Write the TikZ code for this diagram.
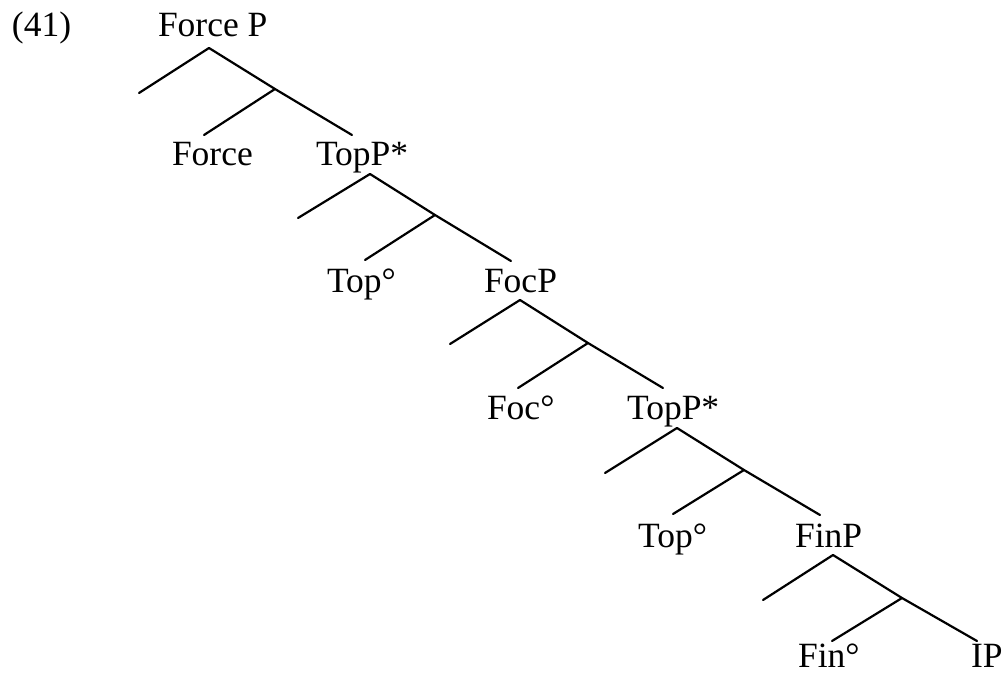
\documentclass[tikz,border=0pt]{standalone}
\usepackage{fontspec}
\setmainfont{Liberation Serif}
\begin{document}
\begin{tikzpicture}[x=1pt,y=-1pt,
  lbl/.style={anchor=base west,inner sep=0pt,outer sep=0pt,font=\fontsize{35.5}{40}\selectfont},
  branch/.style={line width=2.2pt,line cap=round,line join=round}]
\useasboundingbox (0,0) rectangle (1003,674);
% labels
\node[lbl] (ex) at (12,37) {(41)};
\node[lbl] (forceP) at (158,37) {Force P};
\node[lbl] (force) at (172,165) {Force};
\node[lbl] (topP1) at (316,165) {TopP*};
\node[lbl] (top1) at (327,292) {Top°};
\node[lbl] (focP) at (484,292) {FocP};
\node[lbl] (foc) at (487,419) {Foc°};
\node[lbl] (topP2) at (627,419) {TopP*};
\node[lbl] (top2) at (638,547) {Top°};
\node[lbl] (finP) at (795,547) {FinP};
\node[lbl] (fin) at (798,667) {Fin°};
\node[lbl] (ip) at (971,667) {IP};
% level 1
\coordinate (a1) at (209,48); \coordinate (l1) at (139,93); \coordinate (j1) at (275,89);
\coordinate (r1) at (352,135); \coordinate (c1) at (204,135);
% level 2
\coordinate (a2) at (370,174); \coordinate (l2) at (298,218); \coordinate (j2) at (435,215);
\coordinate (r2) at (511,261); \coordinate (c2) at (365,260);
% level 3
\coordinate (a3) at (520,300); \coordinate (l3) at (450,344); \coordinate (j3) at (588,343);
\coordinate (r3) at (663,388); \coordinate (c3) at (518,388);
% level 4
\coordinate (a4) at (677,428); \coordinate (l4) at (605,473); \coordinate (j4) at (744,470);
\coordinate (r4) at (820,515); \coordinate (c4) at (673,514);
% level 5
\coordinate (a5) at (833,555); \coordinate (l5) at (763,600); \coordinate (j5) at (902,598);
\coordinate (r5) at (977,641); \coordinate (c5) at (832,641);
\foreach \i in {1,...,5}{
  \draw[branch] (l\i) -- (a\i) -- (j\i) -- (r\i);
  \draw[branch] (j\i) -- (c\i);
}
\end{tikzpicture}
\end{document}
